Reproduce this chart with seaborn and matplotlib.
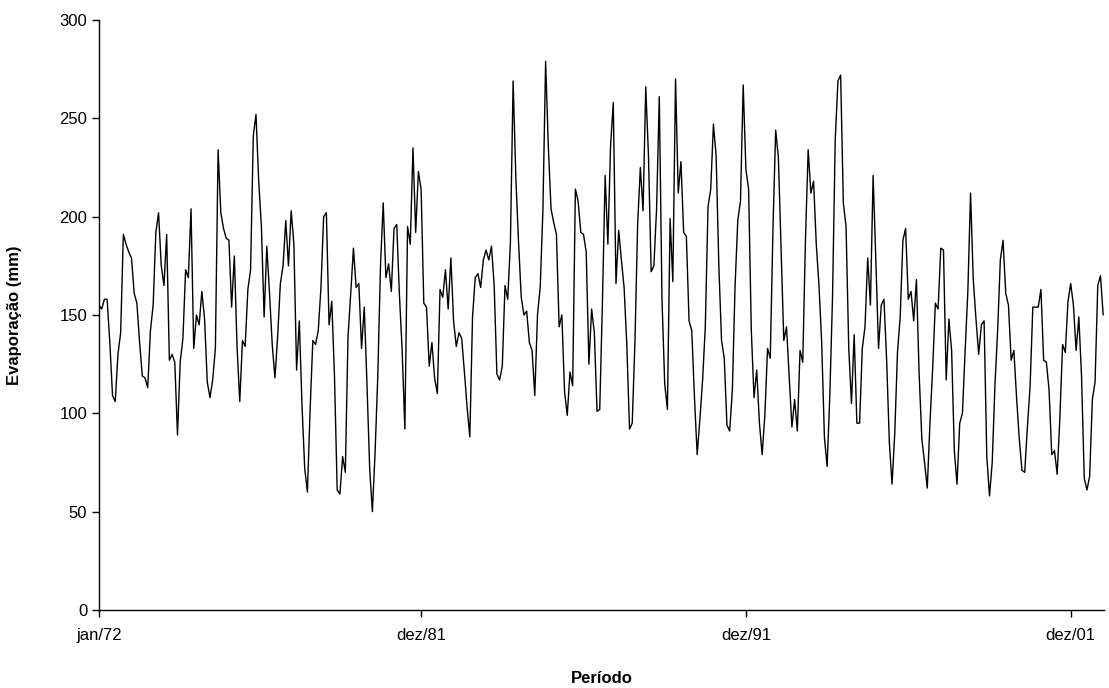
import matplotlib
matplotlib.use("Agg")
import matplotlib.pyplot as plt
import numpy as np
import pandas as pd
import seaborn as sns

# Monthly evaporation (mm), one row per year
evap_1972_1981 = [
    155, 153, 158, 158, 136, 109, 106, 130, 141, 191, 186, 182,
    179, 161, 156, 136, 119, 118, 113, 142, 155, 192, 202, 175,
    165, 191, 127, 130, 126, 89, 126, 138, 173, 169, 204, 133,
    150, 145, 162, 148, 116, 108, 117, 133, 234, 202, 194, 189,
    188, 154, 180, 134, 106, 137, 134, 163, 173, 241, 252, 218,
    195, 149, 185, 161, 135, 118, 139, 166, 175, 198, 175, 203,
    186, 122, 147, 104, 72, 60, 102, 137, 135, 142, 164, 200,
    202, 145, 157, 119, 61, 59, 78, 70, 139, 161, 184, 164,
    166, 133, 154, 115, 72, 50, 80, 119, 175, 207, 169, 176,
    162, 194, 196, 160, 132, 92, 195, 186, 235, 192, 223, 214,
]
evap_1982_1991 = [
    156, 154, 124, 136, 118, 110, 163, 159, 173, 153, 179, 147,
    134, 141, 138, 121, 103, 88, 149, 169, 171, 164, 178, 183,
    178, 185, 165, 120, 117, 124, 165, 158, 187, 269, 220, 187,
    159, 150, 152, 136, 132, 109, 150, 164, 203, 279, 236, 204,
    197, 191, 144, 150, 111, 99, 121, 114, 214, 208, 192, 191,
    182, 125, 153, 141, 101, 102, 157, 221, 186, 236, 258, 166,
    193, 178, 164, 135, 92, 95, 136, 196, 225, 203, 266, 231,
    172, 175, 204, 261, 158, 115, 102, 199, 167, 270, 212, 228,
    192, 190, 147, 142, 108, 79, 97, 117, 144, 205, 214, 247,
    231, 175, 137, 128, 94, 91, 112, 165, 198, 208, 267, 224,
]
evap_1992_2001 = [
    214, 142, 108, 122, 95, 79, 99, 133, 128, 194, 244, 230,
    183, 137, 144, 119, 93, 107, 91, 132, 126, 188, 234, 212,
    218, 186, 165, 136, 88, 73, 109, 159, 239, 269, 272, 207,
    195, 133, 105, 140, 95, 95, 133, 144, 179, 155, 221, 178,
    133, 155, 158, 127, 85, 64, 90, 131, 149, 188, 194, 158,
    162, 147, 168, 120, 87, 75, 62, 95, 123, 156, 153, 184,
    183, 117, 148, 132, 81, 64, 95, 100, 132, 162, 212, 168,
    148, 130, 145, 147, 78, 58, 75, 114, 142, 178, 188, 161,
    155, 127, 132, 108, 87, 71, 70, 93, 114, 154, 154, 154,
    163, 127, 126, 112, 79, 81, 69, 98, 135, 131, 157, 166,
]
evap_2002 = [155, 132, 149, 119, 67, 61, 68, 107, 116, 165, 170, 150]

tick_labels = ["jan/72", "dez/81", "dez/91", "dez/01"]
month_abbr = ["jan", "fev", "mar", "abr", "mai", "jun",
              "jul", "ago", "set", "out", "nov", "dez"]

values = evap_1972_1981 + evap_1982_1991 + evap_1992_2001 + evap_2002
dates = pd.date_range("1972-01-01", periods=len(values), freq="MS")
labels = [f"{month_abbr[d.month - 1]}/{d.year % 100:02d}" for d in dates]
df = pd.DataFrame({"idx": np.arange(len(values)), "evap": values, "label": labels})
tick_pos = [labels.index(t) for t in tick_labels]

sns.set_style("ticks")
plt.rcParams["font.family"] = ["Liberation Sans", "DejaVu Sans"]
plt.rcParams["text.color"] = "black"
plt.rcParams["axes.labelcolor"] = "black"

fig = plt.figure(figsize=(11.09, 6.88), dpi=100)
ax = fig.add_axes([99 / 1109, 78 / 688, (1104 - 99) / 1109, 590 / 688])

sns.lineplot(data=df, x="idx", y="evap", ax=ax, color="black", linewidth=1.0)

ax.set_xlim(0, len(values) - 0.7)
ax.set_ylim(0, 300)
ax.set_yticks(np.arange(0, 301, 50))
ax.set_xticks(tick_pos)
ax.set_xticklabels(tick_labels)

ax.tick_params(axis="both", labelsize=12, colors="black", length=5, width=1,
               direction="out")
ax.tick_params(axis="x", pad=8)
ax.set_xlabel("Período", fontsize=12, fontweight="bold", color="black",
              labelpad=20)
ax.set_ylabel("Evaporação (mm)", fontsize=12, fontweight="bold", color="black",
              labelpad=27)

for side in ["top", "right"]:
    ax.spines[side].set_visible(False)
for side in ["left", "bottom"]:
    ax.spines[side].set_color("black")
    ax.spines[side].set_linewidth(1.0)

fig.savefig("out.png", dpi=100, facecolor="white")
